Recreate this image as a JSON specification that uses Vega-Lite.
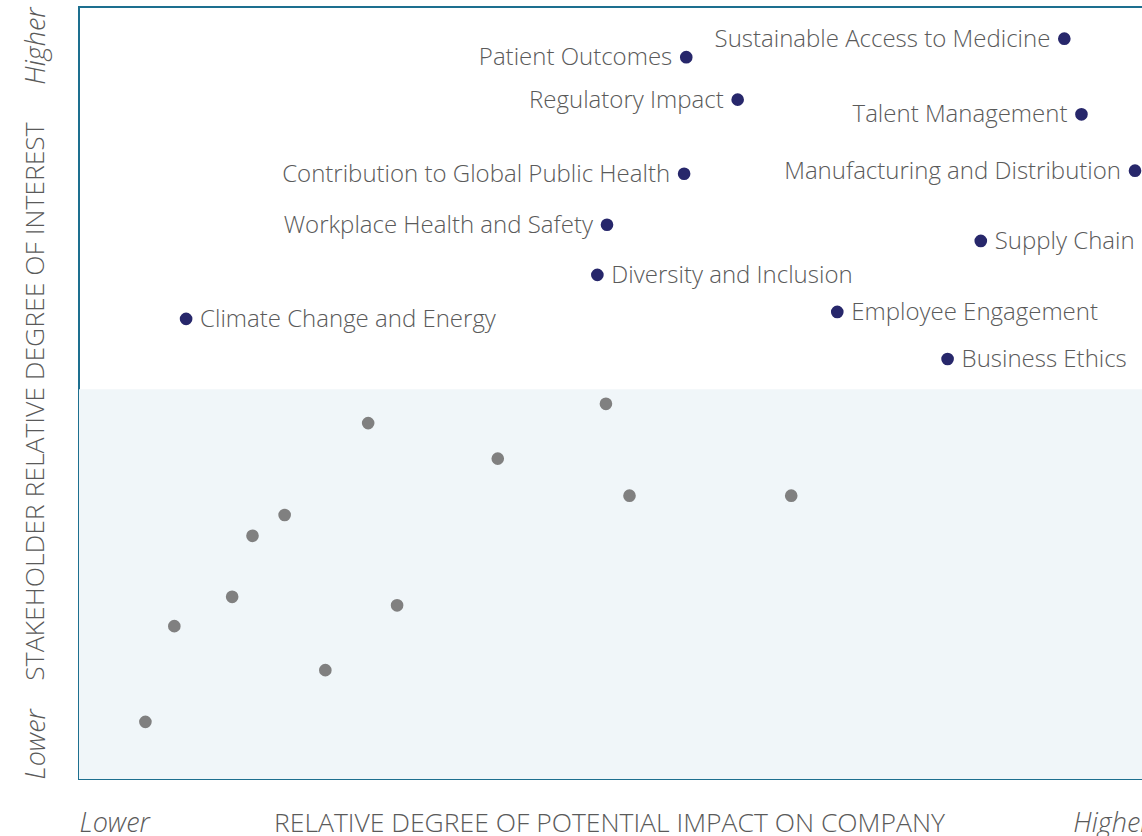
{
  "$schema": "https://vega.github.io/schema/vega-lite/v6.json",
  "autosize": "none",
  "padding": {"left": 79, "top": 7, "right": 0, "bottom": 57},
  "width": 1071,
  "height": 772,
  "background": "white",
  "config": {
    "view": {"stroke": "#1d6f8f", "strokeWidth": 2},
    "font": "Open Sans"
  },
  "datasets": {
    "shade": [{"x0": 0, "x1": 100, "y0": 0, "y1": 50.5}],
    "topics": [
      {"topic": "Patient Outcomes", "impact": 56.7, "interest": 93.5, "group": "material", "side": "left"},
      {"topic": "Sustainable Access to Medicine", "impact": 92.0, "interest": 95.9, "group": "material", "side": "left"},
      {"topic": "Regulatory Impact", "impact": 61.5, "interest": 88.0, "group": "material", "side": "left"},
      {"topic": "Talent Management", "impact": 93.6, "interest": 86.1, "group": "material", "side": "left"},
      {"topic": "Contribution to Global Public Health", "impact": 56.5, "interest": 78.4, "group": "material", "side": "left"},
      {"topic": "Manufacturing and Distribution", "impact": 98.6, "interest": 78.8, "group": "material", "side": "left"},
      {"topic": "Workplace Health and Safety", "impact": 49.3, "interest": 71.8, "group": "material", "side": "left"},
      {"topic": "Supply Chain", "impact": 84.2, "interest": 69.7, "group": "material", "side": "right"},
      {"topic": "Diversity and Inclusion", "impact": 48.4, "interest": 65.3, "group": "material", "side": "right"},
      {"topic": "Climate Change and Energy", "impact": 10.0, "interest": 59.6, "group": "material", "side": "right"},
      {"topic": "Employee Engagement", "impact": 70.8, "interest": 60.5, "group": "material", "side": "right"},
      {"topic": "Business Ethics", "impact": 81.1, "interest": 54.4, "group": "material", "side": "right"},
      {"topic": "", "impact": 49.2, "interest": 48.6, "group": "other", "side": "none"},
      {"topic": "", "impact": 27.0, "interest": 46.1, "group": "other", "side": "none"},
      {"topic": "", "impact": 39.1, "interest": 41.5, "group": "other", "side": "none"},
      {"topic": "", "impact": 51.4, "interest": 36.7, "group": "other", "side": "none"},
      {"topic": "", "impact": 66.5, "interest": 36.7, "group": "other", "side": "none"},
      {"topic": "", "impact": 19.2, "interest": 34.2, "group": "other", "side": "none"},
      {"topic": "", "impact": 16.2, "interest": 31.5, "group": "other", "side": "none"},
      {"topic": "", "impact": 14.3, "interest": 23.6, "group": "other", "side": "none"},
      {"topic": "", "impact": 29.7, "interest": 22.5, "group": "other", "side": "none"},
      {"topic": "", "impact": 8.9, "interest": 19.8, "group": "other", "side": "none"},
      {"topic": "", "impact": 23.0, "interest": 14.1, "group": "other", "side": "none"},
      {"topic": "", "impact": 6.2, "interest": 7.4, "group": "other", "side": "none"}
    ]
  },
  "layer": [
    {
      "data": {"name": "shade"},
      "mark": {"type": "rect", "color": "#f0f6f9"},
      "encoding": {
        "x": {
          "field": "x0", "type": "quantitative",
          "scale": {"domain": [0, 100], "nice": false, "zero": false},
          "axis": {
            "title": "RELATIVE DEGREE OF POTENTIAL IMPACT ON COMPANY",
            "values": [0, 100],
            "labelExpr": "datum.value == 0 ? 'Lower' : 'Higher'",
            "labelFlush": true,
            "labelFontStyle": "italic",
            "labelFontSize": 27,
            "labelFontWeight": 300,
            "labelColor": "#5a5a5a",
            "labelPadding": 31,
            "labelBaseline": "top",
            "domain": false, "ticks": false, "grid": false,
            "titleFontSize": 26.5,
            "titleFontWeight": 300,
            "titleColor": "#5a5a5a",
            "titleBaseline": "top",
            "titleY": 31,
            "titleX": 530
          }
        },
        "x2": {"field": "x1"},
        "y": {
          "field": "y0", "type": "quantitative",
          "scale": {"domain": [0, 100], "nice": false, "zero": false},
          "axis": {
            "title": "STAKEHOLDER RELATIVE DEGREE OF INTEREST",
            "values": [0, 100],
            "labelExpr": "datum.value == 0 ? 'Lower' : 'Higher'",
            "labelAngle": 270,
            "labelAlign": {"condition": {"test": "datum.value == 0", "value": "left"}, "value": "right"},
            "labelBaseline": "bottom",
            "labelFontStyle": "italic",
            "labelFontSize": 27,
            "labelFontWeight": 300,
            "labelColor": "#5a5a5a",
            "labelPadding": 29,
            "domain": false, "ticks": false, "grid": false,
            "titleFontSize": 26.5,
            "titleFontWeight": 300,
            "titleColor": "#5a5a5a",
            "titleBaseline": "middle",
            "titleAngle": 270,
            "titleX": -44,
            "titleY": 394
          }
        },
        "y2": {"field": "y1"}
      }
    },
    {
      "data": {"name": "topics"},
      "mark": {"type": "point", "filled": true, "opacity": 1, "size": 160},
      "encoding": {
        "x": {"field": "impact", "type": "quantitative"},
        "y": {"field": "interest", "type": "quantitative"},
        "color": {
          "field": "group", "type": "nominal",
          "scale": {"domain": ["material", "other"], "range": ["#27276b", "#808080"]},
          "legend": null
        }
      }
    },
    {
      "data": {"name": "topics"},
      "transform": [{"filter": "datum.side == 'left'"}],
      "mark": {"type": "text", "align": "right", "baseline": "middle", "dx": -14, "dy": 1, "fontSize": 24, "fontWeight": 300, "color": "#5a5a5a"},
      "encoding": {
        "x": {"field": "impact", "type": "quantitative"},
        "y": {"field": "interest", "type": "quantitative"},
        "text": {"field": "topic"}
      }
    },
    {
      "data": {"name": "topics"},
      "transform": [{"filter": "datum.side == 'right'"}],
      "mark": {"type": "text", "align": "left", "baseline": "middle", "dx": 14, "dy": 1, "fontSize": 24, "fontWeight": 300, "color": "#5a5a5a"},
      "encoding": {
        "x": {"field": "impact", "type": "quantitative"},
        "y": {"field": "interest", "type": "quantitative"},
        "text": {"field": "topic"}
      }
    }
  ]
}
